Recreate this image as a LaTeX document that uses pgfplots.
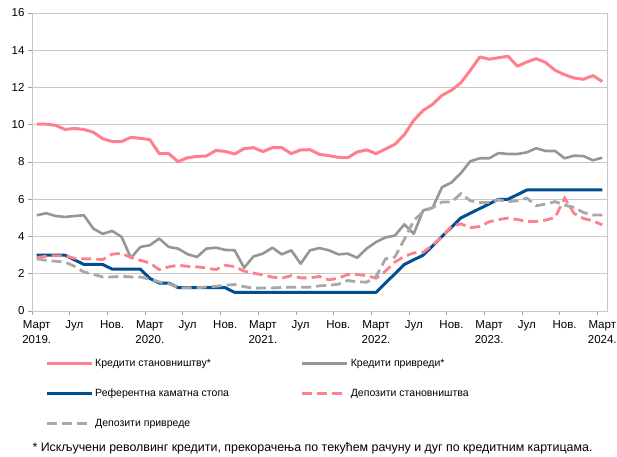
\documentclass[border=0pt]{standalone}
\usepackage{fontspec}
\setmainfont{Liberation Sans}
\usepackage{pgfplots}
\usepackage{pgfplotstable}
\pgfplotsset{compat=1.18}
\definecolor{cred}{RGB}{255,128,140}
\definecolor{cgrayK}{RGB}{150,150,150}
\definecolor{cgrayD}{RGB}{168,168,168}
\definecolor{cblue}{RGB}{0,80,145}
\definecolor{cgrid}{RGB}{200,200,200}

\pgfplotstableread{
i kst kpr ref dst dpr
0 10.03 5.14 3.00 2.87 2.80
1 10.03 5.25 3.00 2.94 2.72
2 9.97 5.10 3.00 2.97 2.67
3 9.75 5.05 3.00 2.97 2.63
4 9.80 5.10 2.75 2.83 2.40
5 9.75 5.14 2.50 2.80 2.10
6 9.60 4.43 2.50 2.80 1.97
7 9.25 4.14 2.50 2.76 1.83
8 9.10 4.30 2.25 3.05 1.83
9 9.10 3.98 2.25 3.10 1.86
10 9.33 2.85 2.25 2.87 1.83
11 9.27 3.44 2.25 2.72 1.83
12 9.20 3.53 1.75 2.58 1.70
13 8.45 3.89 1.50 2.22 1.56
14 8.45 3.44 1.50 2.37 1.47
15 8.02 3.35 1.25 2.46 1.25
16 8.23 3.05 1.25 2.40 1.25
17 8.30 2.90 1.25 2.37 1.25
18 8.32 3.35 1.25 2.31 1.29
19 8.62 3.40 1.25 2.22 1.33
20 8.57 3.28 1.25 2.45 1.38
21 8.43 3.26 1.00 2.39 1.42
22 8.72 2.32 1.00 2.14 1.31
23 8.77 2.93 1.00 2.03 1.22
24 8.56 3.08 1.00 1.94 1.24
25 8.77 3.40 1.00 1.82 1.24
26 8.77 3.04 1.00 1.76 1.26
27 8.45 3.26 1.00 1.90 1.28
28 8.65 2.54 1.00 1.78 1.28
29 8.66 3.26 1.00 1.78 1.28
30 8.41 3.38 1.00 1.85 1.35
31 8.34 3.26 1.00 1.67 1.38
32 8.25 3.04 1.00 1.76 1.44
33 8.23 3.08 1.00 1.96 1.64
34 8.54 2.86 1.00 1.96 1.56
35 8.65 3.35 1.00 1.90 1.55
36 8.45 3.70 1.00 1.76 1.85
37 8.70 3.95 1.50 2.14 2.80
38 8.95 4.05 2.00 2.63 2.90
39 9.47 4.65 2.50 2.93 3.85
40 10.24 4.15 2.75 3.12 4.85
41 10.77 5.40 3.00 3.15 5.35
42 11.10 5.55 3.50 3.55 5.55
43 11.58 6.65 4.00 3.97 5.85
44 11.85 6.90 4.50 4.55 5.85
45 12.26 7.40 5.00 4.68 6.30
46 12.92 8.04 5.25 4.47 5.92
47 13.64 8.20 5.50 4.54 5.83
48 13.52 8.20 5.75 4.79 5.83
49 13.60 8.48 6.00 4.91 5.97
50 13.68 8.43 6.00 4.99 5.87
51 13.14 8.43 6.25 4.91 5.92
52 13.37 8.52 6.50 4.81 6.06
53 13.55 8.74 6.50 4.81 5.65
54 13.34 8.59 6.50 4.88 5.74
55 12.92 8.59 6.50 5.02 5.87
56 12.69 8.20 6.50 6.06 5.69
57 12.51 8.34 6.50 5.24 5.56
58 12.44 8.32 6.50 4.97 5.29
59 12.64 8.09 6.50 4.84 5.15
60 12.32 8.23 6.50 4.63 5.15
}\data

\begin{document}
\begin{tikzpicture}[font=\fontsize{11.5}{15}\selectfont]
\path[use as bounding box] (-32pt,-145pt) rectangle (585pt,311pt);
\begin{axis}[
  scale only axis, width=575pt, height=298pt,
  at={(0pt,0pt)}, anchor=south west,
  xmin=-0.5, xmax=60.5, ymin=0, ymax=16,
  ytick={0,2,...,16},
  xtick={-0.5,3.5,...,59.5},
  xticklabels={{Март\\2019.},Јул,Нов.,{Март\\2020.},Јул,Нов.,{Март\\2021.},Јул,Нов.,{Март\\2022.},Јул,Нов.,{Март\\2023.},Јул,Нов.,{Март\\2024.}},
  xticklabel style={align=center, xshift=4.71pt, yshift=-2pt, text depth=0pt},
  tick align=outside, tick pos=left,
  major tick length=4pt,
  tick style={cgrid!80!black, line width=0.8pt},
  axis line style={cgrid, line width=0.9pt},
  ymajorgrids, grid style={cgrid, line width=0.9pt},
  /pgf/number format/assume math mode=true,
  legend columns=2,
  legend cell align=left,
  legend image code/.code={\draw[#1] (0pt,0pt) -- (45pt,0pt);},
  legend style={draw=none, fill=none, at={(0,0)}, anchor=north west,
    xshift=10pt, yshift=-44pt, font=\fontsize{10.5}{12}\selectfont,
    row sep=17pt,
    /tikz/every even column/.append style={column sep=70pt}},
]
\addplot[cred, line width=3pt, line join=round] table[x=i,y=kst]{\data};
\addlegendentry{Кредити становништву*}
\addplot[cgrayK, line width=2.6pt, line join=round] table[x=i,y=kpr]{\data};
\addlegendentry{Кредити привреди*}
\addplot[cblue, line width=3pt, line join=round] table[x=i,y=ref]{\data};
\addlegendentry{Референтна каматна стопа}
\addplot[cred, line width=2.8pt, dash pattern=on 10pt off 5pt] table[x=i,y=dst]{\data};
\addlegendentry{Депозити становништва}
\addplot[cgrayD, line width=2.8pt, dash pattern=on 10pt off 5pt] table[x=i,y=dpr]{\data};
\addlegendentry{Депозити привреде}
\end{axis}
\node[anchor=base west, font=\fontsize{12.4}{14}\selectfont] at (-3pt,-140.5pt) {* Искључени револвинг кредити, прекорачења по текућем рачуну и дуг по кредитним картицама.};
\end{tikzpicture}
\end{document}
